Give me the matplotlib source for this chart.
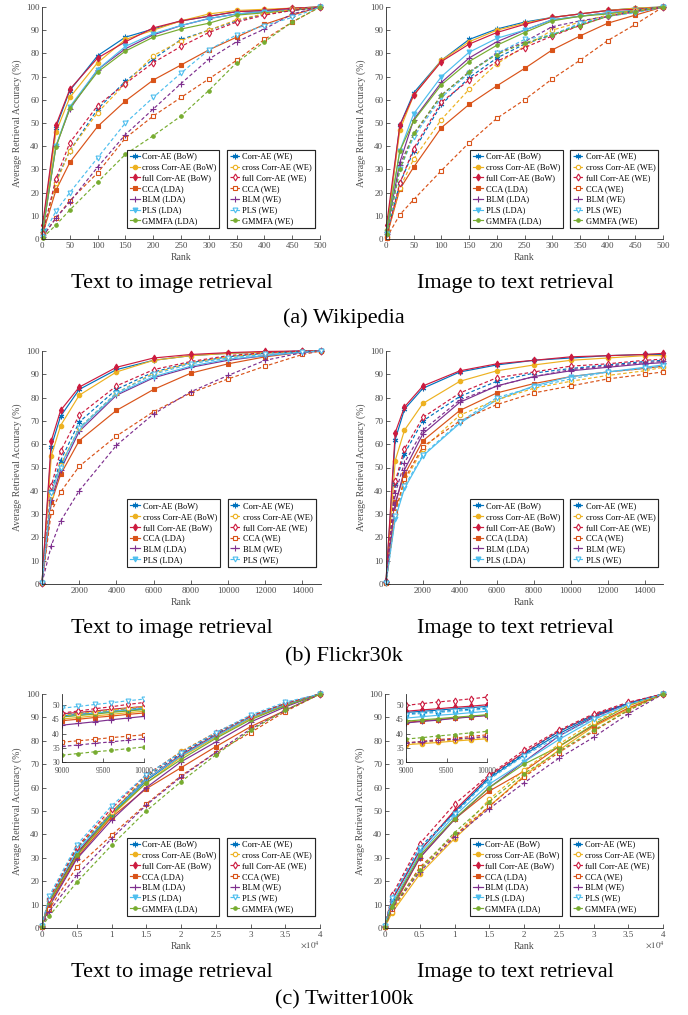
import matplotlib
matplotlib.use("Agg")
import matplotlib.pyplot as plt
from matplotlib.ticker import FixedLocator

plt.rcParams["font.family"] = ["Liberation Serif", "DejaVu Serif"]
plt.rcParams["mathtext.fontset"] = "stix"

# ---- data -------------------------------------------------------------
BOW_LABELS = ["Corr-AE (BoW)", "cross Corr-AE (BoW)", "full Corr-AE (BoW)",
              "CCA (LDA)", "BLM (LDA)", "PLS (LDA)", "GMMFA (LDA)"]
WE_LABELS = ["Corr-AE (WE)", "cross Corr-AE (WE)", "full Corr-AE (WE)",
             "CCA (WE)", "BLM (WE)", "PLS (WE)", "GMMFA (WE)"]

wiki_x = [1, 25, 50, 100, 150, 200, 250, 300, 350, 400, 450, 500]
wiki_t2i_bow = [
    [4, 48, 64, 79, 87, 90.5, 94, 96, 98, 98.5, 99.5, 100],
    [3, 46, 61, 76, 86, 90, 94, 97, 98.5, 99, 99.5, 100],
    [6, 49, 64.5, 78, 85, 91, 94, 96, 98, 98.5, 99.5, 100],
    [2, 21, 33, 48.5, 59.5, 68.5, 75, 81.5, 87, 92.5, 96.5, 100],
    [3, 40, 56, 73, 82, 88, 92, 95, 97, 98, 99, 100],
    [3, 40, 57, 73, 83, 88.5, 92, 95, 97, 98, 98.5, 100],
    [3, 39.5, 56.5, 72, 81, 87, 90.5, 93, 96.5, 97.5, 98.5, 100],
]
wiki_t2i_we = [
    [2, 25, 38, 56, 68, 77.5, 86, 90, 94, 97, 98.5, 100],
    [2, 24, 38, 54.5, 67, 79, 85.5, 90, 94.5, 97, 99, 100],
    [2, 26, 41.5, 57.5, 67, 76, 83, 89, 93.5, 96.5, 98.5, 100],
    [1, 9, 16.5, 28.5, 43.5, 53, 61, 69, 77, 86, 93.5, 100],
    [1, 9, 16, 31, 45, 56, 67, 77.5, 85, 90.5, 97, 100],
    [1, 12, 20, 35, 50, 61, 71.5, 81.5, 88, 92, 95.5, 100],
    [0.5, 6, 12.5, 24.5, 36.5, 44.5, 53, 64, 76, 85, 93.5, 100],
]
wiki_i2t_bow = [
    [3, 49, 63, 77, 86, 90.5, 93.5, 95.5, 97, 98.5, 99.5, 100],
    [4, 47, 62, 77, 85, 90, 93, 95.5, 97, 98.5, 99.5, 100],
    [6, 49, 62, 76.5, 84, 89, 92.5, 95.5, 97, 98.5, 99, 100],
    [1, 21.5, 31, 48, 58, 66, 73.5, 81.5, 87.5, 93, 96.5, 100],
    [3, 33, 51.5, 67.5, 78, 85, 90, 94.5, 96, 97.5, 98.5, 100],
    [3, 38, 54, 70, 80.5, 86.5, 90, 94.5, 96, 97.5, 98.5, 100],
    [4, 38, 51, 66.5, 76.5, 83.5, 89, 94, 96, 97, 98.5, 100],
]
wiki_i2t_we = [
    [2, 24, 38, 58, 69.5, 78, 84, 88, 92.5, 96, 98.5, 100],
    [1, 22, 34.5, 51.5, 64.5, 75.5, 83, 90, 93.5, 96.5, 98.5, 100],
    [1, 24, 39, 59, 68.5, 76.5, 82.5, 87.5, 92, 96, 98, 100],
    [0.5, 10.5, 17, 29.5, 41.5, 52, 60, 69, 77, 85.5, 92.5, 100],
    [2, 32, 45, 62, 72, 80, 85, 91.5, 94, 96, 98, 100],
    [2, 30, 44, 61, 71.5, 80, 86, 88, 93, 96, 97.5, 100],
    [2, 30, 45.5, 62, 72, 79.5, 84.5, 88, 92, 96, 98, 100],
]

flickr_x = [1, 500, 1000, 2000, 4000, 6000, 8000, 10000, 12000, 14000, 15000]
flickr_t2i_bow = [
    [0.5, 59, 72, 83.5, 92, 96, 98, 99, 99.5, 100, 100],
    [0.5, 55, 68, 81, 91, 96, 98, 99, 99.5, 99.8, 100],
    [0.5, 61.5, 74.5, 84.5, 93, 97, 98.5, 99.3, 99.8, 100, 100],
    [0.5, 35, 47, 61.5, 74.5, 83.5, 90.5, 94.5, 97.5, 99.5, 100],
    [0.5, 36, 49, 65.5, 81, 88.5, 93, 96, 98, 99.5, 100],
    [0.5, 39, 51, 66.5, 81.5, 89, 93.5, 96.5, 98, 99.5, 100],
]
flickr_t2i_we = [
    [0.5, 40, 53, 69.5, 83.5, 91, 95, 97.5, 99, 99.8, 100],
    [0.5, 38, 51, 67, 82, 90.5, 95, 97.5, 99, 99.8, 100],
    [0.5, 42, 57, 72.5, 85, 92, 95.5, 98, 99.3, 100, 100],
    [0.5, 31, 39.5, 50.5, 63.5, 74, 82, 88, 93.5, 98.5, 100],
    [0.5, 16.5, 27, 40, 59.5, 73, 82.5, 89.5, 96, 99.3, 100],
    [0.5, 39, 50, 67, 82, 90, 94.5, 97, 98.5, 99.5, 100],
]
flickr_i2t_bow = [
    [1, 62, 75, 84, 91, 94, 96, 97, 98, 98.5, 98.5],
    [1, 53, 66, 77.5, 87, 91.5, 94, 96, 97, 98, 98],
    [1.5, 65, 76, 85, 91.5, 94.5, 96, 97.5, 98, 98.5, 99],
    [1, 35, 47, 61.5, 74.5, 82, 86, 89, 91, 92.5, 93.5],
    [1, 34, 49, 64.5, 78, 85, 89, 91.5, 93, 94.5, 95],
    [0.5, 28, 41, 55, 69, 79, 85, 89, 91, 93, 94],
]
flickr_i2t_we = [
    [1, 43, 56, 70, 80.5, 87, 90.5, 92.5, 94, 95.5, 96],
    [0.5, 30, 44, 58, 72.5, 79, 84, 87, 89.5, 91.5, 93],
    [1, 44, 58, 71.5, 82, 88.5, 91, 93.5, 94.5, 96, 96.5],
    [0.5, 31, 45, 59, 70, 77, 82, 85, 88, 90, 91],
    [1, 39, 52, 66, 79, 85, 89, 92, 93.5, 95, 95.5],
    [0.5, 29, 42, 55.5, 69.5, 80, 84.5, 88, 91, 92.5, 93.5],
]

twitter_x = [1, 1000, 5000, 10000, 15000, 20000, 25000, 30000, 35000, 40000]
twitter_t2i_bow = [
    [1, 11, 32, 48.8, 63, 73.5, 82, 90, 95.5, 100],
    [1, 10, 31, 47.9, 62, 73, 81.5, 89.5, 95, 100],
    [1, 11.5, 31.5, 49.6, 63.5, 74, 82.5, 90, 95.5, 100],
    [1, 10, 30, 47.3, 59.5, 68.5, 77.5, 86, 93, 100],
    [1, 9, 29.5, 46.1, 60, 71, 79.5, 88, 94.5, 100],
    [1, 12, 33, 49, 63.5, 73.5, 82, 90, 95.5, 100],
    [1, 11, 31, 48.5, 62, 72, 81, 89, 95, 100],
]
twitter_t2i_we = [
    [1, 12, 34, 49.3, 64.5, 74.5, 83, 90.5, 96, 100],
    [1, 12, 34.5, 49.5, 65, 75.5, 83.5, 90.5, 96, 100],
    [1, 12.5, 34.5, 51, 65.5, 75, 83.5, 90.5, 96, 100],
    [0.5, 8, 26, 39.6, 53, 65, 75, 83.5, 92.5, 100],
    [0.5, 7, 22.5, 38.2, 52.5, 64.5, 75, 85, 93, 100],
    [1, 13.5, 35.5, 52.2, 65.5, 75, 83.5, 91, 96.5, 100],
    [0.5, 5, 19.5, 35.3, 50, 62.5, 74, 84.5, 93, 100],
]
twitter_i2t_bow = [
    [1, 12, 33, 49.6, 64, 74, 83, 90.5, 96, 100],
    [0.5, 6.5, 23, 38.2, 52, 65, 76, 86, 93.5, 100],
    [1, 12, 33, 50.2, 65, 75, 84, 91, 96, 100],
    [1, 8, 30, 46.5, 58.5, 67, 77.5, 86.5, 94, 100],
    [1, 9, 30, 46.4, 60, 71, 82, 90, 96, 100],
    [1, 10.5, 32, 47.9, 61.5, 71, 80.5, 89, 95.5, 100],
    [1, 9.5, 31, 46.7, 60, 70, 77.5, 87, 95, 100],
]
twitter_i2t_we = [
    [1, 13, 34.5, 49, 64.5, 74.5, 84, 91, 96, 100],
    [0.5, 7, 25, 38.7, 55, 67.5, 78.5, 88, 95, 100],
    [1, 14, 36, 52.9, 65.5, 76, 84.5, 91.5, 96.5, 100],
    [0.5, 8, 26, 39.6, 52, 64.5, 75, 84, 93, 100],
    [0.5, 8.5, 24, 39, 51, 62, 72.5, 81.5, 91.5, 100],
    [1, 13, 34, 48.7, 63.5, 73.5, 82, 89.5, 95.5, 100],
    [0.5, 9, 25, 40.8, 54, 66, 75.5, 84.5, 93, 100],
]

inset_x = [9000, 9200, 9400, 9600, 9800, 10000]
inset_t2i_bow = [
    [46.3, 46.8, 47.3, 47.8, 48.3, 48.8],
    [45.2, 45.7, 46.3, 46.8, 47.4, 47.9],
    [47.0, 47.5, 48.0, 48.6, 49.1, 49.6],
    [44.6, 45.1, 45.7, 46.2, 46.8, 47.3],
    [43.0, 43.6, 44.2, 44.9, 45.5, 46.1],
    [46.0, 46.6, 47.2, 47.8, 48.4, 49.0],
    [45.9, 46.4, 46.9, 47.5, 48.0, 48.5],
]
inset_t2i_we = [
    [46.7, 47.2, 47.7, 48.3, 48.8, 49.3],
    [46.5, 47.1, 47.7, 48.3, 48.9, 49.5],
    [47.3, 48.0, 48.8, 49.5, 50.3, 51.0],
    [37.0, 37.5, 38.0, 38.6, 39.1, 39.6],
    [35.5, 36.0, 36.6, 37.1, 37.7, 38.2],
    [49.0, 49.6, 50.3, 50.9, 51.6, 52.2],
    [32.4, 33.0, 33.6, 34.1, 34.7, 35.3],
]
inset_i2t_bow = [
    [47.5, 47.9, 48.3, 48.8, 49.2, 49.6],
    [36.1, 36.5, 36.9, 37.4, 37.8, 38.2],
    [47.9, 48.4, 48.8, 49.3, 49.7, 50.2],
    [44.0, 44.5, 45.0, 45.5, 46.0, 46.5],
    [43.8, 44.3, 44.8, 45.4, 45.9, 46.4],
    [45.5, 46.0, 46.5, 46.9, 47.4, 47.9],
    [44.4, 44.9, 45.3, 45.8, 46.2, 46.7],
]
inset_i2t_we = [
    [47.0, 47.4, 47.8, 48.2, 48.6, 49.0],
    [36.5, 36.9, 37.4, 37.8, 38.3, 38.7],
    [50.0, 50.6, 51.2, 51.7, 52.3, 52.9],
    [36.7, 37.3, 37.9, 38.4, 39.0, 39.6],
    [36.7, 37.2, 37.6, 38.1, 38.5, 39.0],
    [46.7, 47.1, 47.5, 47.9, 48.3, 48.7],
    [38.1, 38.6, 39.2, 39.7, 40.3, 40.8],
]

# ---- style ------------------------------------------------------------
COLORS = ["#0072BD", "#EDB120", "#CC1B3F", "#D95319", "#7E2F8E", "#4DBEEE", "#77AC30"]
MARKERS = [(6, 2, 0), "o", "d", "s", "+", "v", "."]
MSIZE = [4, 3.2, 3.5, 3, 4.5, 3.5, 5]
TICK_COLOR = "#4d4d4d"

W, H = 688, 1015
fig = plt.figure(figsize=(W / 100, H / 100), dpi=100)


def px_axes(left, top, width, height):
    return fig.add_axes([left / W, (H - top - height) / H, width / W, height / H])


def style_axes(ax, fs=6.5, pad=2, xpad=2):
    for s in ["top", "right"]:
        ax.spines[s].set_visible(False)
    for s in ["left", "bottom"]:
        ax.spines[s].set_color("#262626")
        ax.spines[s].set_linewidth(0.6)
    ax.tick_params(direction="in", length=3, width=0.5, labelsize=fs,
                   colors=TICK_COLOR, pad=pad)
    ax.tick_params(axis="x", pad=xpad)
    ax.tick_params(axis="both", color="#262626")


def draw_series(ax, x, bow, we, inset=False):
    hb, hw = [], []
    for i, ys in enumerate(bow):
        h, = ax.plot(x, ys, color=COLORS[i], marker=MARKERS[i], ms=MSIZE[i],
                     lw=0.85, mew=0.8, clip_on=inset, label=BOW_LABELS[i])
        hb.append(h)
    for i, ys in enumerate(we):
        fc = COLORS[i] if MARKERS[i] in ("+", ".", (6, 2, 0)) else "white"
        h, = ax.plot(x, ys, color=COLORS[i], marker=MARKERS[i], ms=MSIZE[i],
                     lw=0.85, mew=0.8, ls=(0, (3, 2)), mfc=fc,
                     clip_on=inset, label=WE_LABELS[i])
        hw.append(h)
    return hb, hw


def add_legends(ax, hb, hw, y0):
    for handles, x0 in [(hb, 0.305), (hw, 0.665)]:
        leg = ax.legend(handles=handles, loc="lower left", bbox_to_anchor=(x0, y0),
                        borderaxespad=0, fontsize=6, handlelength=1.2,
                        handletextpad=0.3, labelspacing=0.33, borderpad=0.35,
                        fancybox=False, framealpha=1, edgecolor="#262626")
        leg.get_frame().set_linewidth(0.8)
        ax.add_artist(leg)


def main_panel(rect, x, bow, we, xlim, xticks, xticklabels, leg_y):
    ax = px_axes(*rect)
    hb, hw = draw_series(ax, x, bow, we)
    ax.set_xlim(*xlim)
    ax.set_ylim(0, 100)
    ax.set_yticks(range(0, 101, 10))
    ax.xaxis.set_major_locator(FixedLocator(xticks))
    ax.set_xticklabels(xticklabels)
    style_axes(ax)
    ax.set_xlabel("Rank", fontsize=7, color=TICK_COLOR, labelpad=2.5)
    ax.set_ylabel("Average Retrieval Accuracy (%)", fontsize=7, color=TICK_COLOR,
                  labelpad=3)
    add_legends(ax, hb, hw, leg_y)
    return ax


def inset_panel(rect, bow, we):
    ax = px_axes(*rect)
    ax.set_facecolor("white")
    draw_series(ax, inset_x, bow, we, inset=True)
    ax.set_xlim(9000, 10000)
    ax.set_ylim(30, 54)
    ax.set_xticks([9000, 9500, 10000])
    ax.set_yticks([30, 35, 40, 45, 50])
    style_axes(ax, fs=5.5, pad=1.5, xpad=3.5)
    ax.set_zorder(5)
    return ax


wiki_ticks = list(range(0, 501, 50))
main_panel((42, 7, 278, 232), wiki_x, wiki_t2i_bow, wiki_t2i_we, (0, 500),
           wiki_ticks, [str(t) for t in wiki_ticks], 0.047)
main_panel((386, 7, 277, 232), wiki_x, wiki_i2t_bow, wiki_i2t_we, (0, 500),
           wiki_ticks, [str(t) for t in wiki_ticks], 0.047)

fl_ticks = list(range(2000, 14001, 2000))
main_panel((42, 351, 279, 233), flickr_x, flickr_t2i_bow, flickr_t2i_we, (0, 15000),
           fl_ticks, [str(t) for t in fl_ticks], 0.073)
main_panel((386, 351, 277, 233), flickr_x, flickr_i2t_bow, flickr_i2t_we, (0, 15000),
           fl_ticks, [str(t) for t in fl_ticks], 0.073)

tw_ticks = list(range(0, 40001, 5000))
tw_labels = ["0", "0.5", "1", "1.5", "2", "2.5", "3", "3.5", "4"]
a5 = main_panel((42, 694, 278, 234), twitter_x, twitter_t2i_bow, twitter_t2i_we,
                (0, 40000), tw_ticks, tw_labels, 0.051)
a6 = main_panel((385, 694, 278, 234), twitter_x, twitter_i2t_bow, twitter_i2t_we,
                (0, 40000), tw_ticks, tw_labels, 0.051)
for ax, xp in [(a5, 0.965), (a6, 0.97)]:
    ax.text(xp, -0.07, r"$\times10^4$", transform=ax.transAxes, fontsize=6.5,
            color=TICK_COLOR, ha="center", va="center")

inset_panel((62, 694, 82, 68), inset_t2i_bow, inset_t2i_we)
inset_panel((406, 694, 81, 68), inset_i2t_bow, inset_i2t_we)

# ---- captions ---------------------------------------------------------
def caption(xp, yp, s):
    fig.text(xp / W, 1 - yp / H, s, fontsize=16, ha="center", va="center")


caption(172, 283, "Text to image retrieval")
caption(515, 283, "Image to text retrieval")
caption(344, 318, "(a) Wikipedia")
caption(172, 628, "Text to image retrieval")
caption(515, 628, "Image to text retrieval")
caption(344, 657, "(b) Flickr30k")
caption(172, 972, "Text to image retrieval")
caption(515, 972, "Image to text retrieval")
caption(344, 1000, "(c) Twitter100k")

fig.savefig("out.png", dpi=100)
